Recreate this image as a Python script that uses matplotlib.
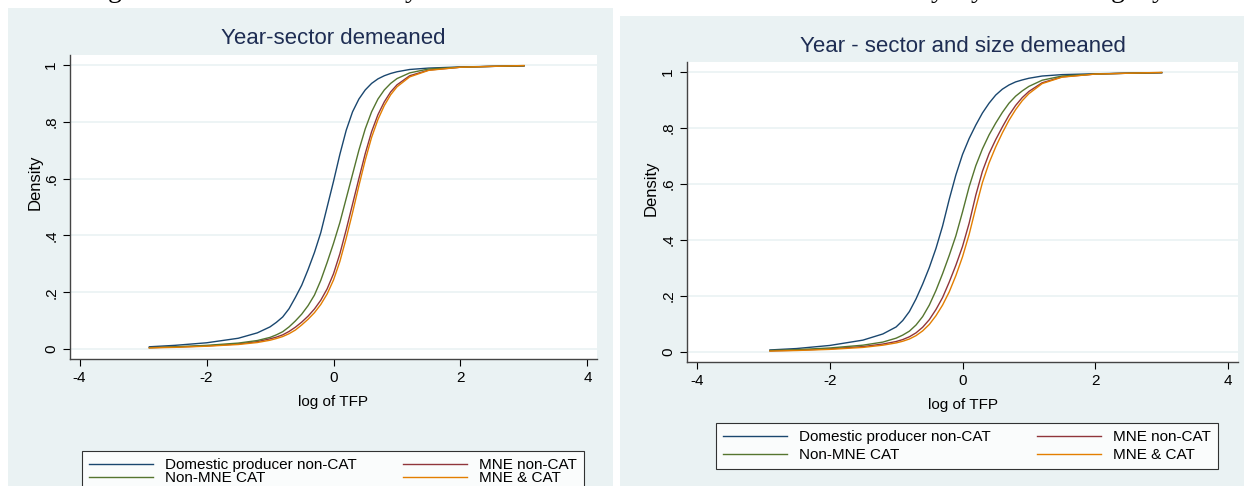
import matplotlib
matplotlib.use("Agg")
import matplotlib.pyplot as plt
from matplotlib.patches import Rectangle

plt.rcParams["font.family"] = ["Liberation Sans", "DejaVu Sans"]

# log TFP grid and cumulative shares for each firm group
tfp = [-2.9, -2.5, -2.0, -1.5, -1.2, -1.0, -0.9, -0.8, -0.7, -0.6, -0.5, -0.4, -0.3, -0.2, -0.1,
       0.0, 0.1, 0.2, 0.3, 0.4, 0.5, 0.6, 0.7, 0.8, 0.9, 1.0, 1.2, 1.5, 2.0, 2.5, 3.0]

# Year-sector demeaned
ys_domestic = [0.008, 0.013, 0.022, 0.038, 0.057, 0.078, 0.094, 0.113, 0.142, 0.182, 0.225, 0.28, 0.34, 0.41, 0.50,
               0.59, 0.685, 0.77, 0.835, 0.88, 0.912, 0.935, 0.951, 0.962, 0.97, 0.976, 0.984, 0.989, 0.993, 0.995, 0.997]
ys_nonmne_cat = [0.005, 0.008, 0.013, 0.021, 0.030, 0.041, 0.05, 0.061, 0.078, 0.099, 0.123, 0.153, 0.19, 0.242, 0.305,
                 0.372, 0.445, 0.53, 0.615, 0.70, 0.775, 0.835, 0.88, 0.912, 0.935, 0.952, 0.972, 0.986, 0.992, 0.995, 0.997]
ys_mne_noncat = [0.005, 0.007, 0.011, 0.018, 0.026, 0.036, 0.042, 0.05, 0.062, 0.077, 0.095, 0.116, 0.141, 0.172, 0.212,
                 0.265, 0.335, 0.42, 0.51, 0.60, 0.688, 0.765, 0.825, 0.87, 0.905, 0.93, 0.962, 0.982, 0.992, 0.995, 0.997]
ys_mne_cat = [0.004, 0.006, 0.010, 0.016, 0.023, 0.031, 0.037, 0.044, 0.054, 0.067, 0.085, 0.105, 0.128, 0.157, 0.194,
              0.243, 0.308, 0.39, 0.48, 0.575, 0.665, 0.745, 0.808, 0.857, 0.895, 0.923, 0.958, 0.981, 0.992, 0.995, 0.998]

# Year - sector and size demeaned
yss_domestic = [0.008, 0.013, 0.024, 0.043, 0.065, 0.09, 0.113, 0.145, 0.19, 0.243, 0.302, 0.37, 0.45, 0.545, 0.632,
                0.705, 0.762, 0.81, 0.853, 0.888, 0.917, 0.938, 0.953, 0.964, 0.971, 0.977, 0.985, 0.99, 0.993, 0.995, 0.997]
yss_nonmne_cat = [0.006, 0.009, 0.015, 0.025, 0.036, 0.05, 0.061, 0.075, 0.097, 0.127, 0.168, 0.22, 0.28, 0.345, 0.415,
                  0.50, 0.59, 0.665, 0.725, 0.775, 0.817, 0.855, 0.888, 0.913, 0.932, 0.948, 0.97, 0.985, 0.992, 0.995, 0.997]
yss_mne_noncat = [0.005, 0.007, 0.012, 0.02, 0.029, 0.038, 0.045, 0.055, 0.069, 0.089, 0.116, 0.152, 0.195, 0.25, 0.31,
                  0.377, 0.46, 0.56, 0.645, 0.708, 0.758, 0.803, 0.845, 0.88, 0.908, 0.93, 0.961, 0.982, 0.992, 0.995, 0.997]
yss_mne_cat = [0.004, 0.006, 0.010, 0.017, 0.025, 0.033, 0.039, 0.047, 0.059, 0.076, 0.099, 0.13, 0.168, 0.215, 0.273,
               0.34, 0.42, 0.515, 0.605, 0.675, 0.732, 0.782, 0.827, 0.865, 0.897, 0.922, 0.958, 0.981, 0.992, 0.995, 0.998]

labels = ["Domestic producer non-CAT", "MNE non-CAT", "Non-MNE CAT", "MNE & CAT"]
colors = ["#1a476f", "#90353b", "#55752f", "#e37e00"]
titles = ["Year-sector demeaned", "Year - sector and size demeaned"]
panels = [[ys_domestic, ys_mne_noncat, ys_nonmne_cat, ys_mne_cat],
          [yss_domestic, yss_mne_noncat, yss_nonmne_cat, yss_mne_cat]]
xticks = [-4, -2, 0, 2, 4]
yticks = [0, 0.2, 0.4, 0.6, 0.8, 1.0]
yticklabels = ["0", ".2", ".4", ".6", ".8", "1"]

W, H = 1244, 486
fig = plt.figure(figsize=(W / 100, H / 100), dpi=100, facecolor="white")


def px_box(x0, y0, x1, y1):
    # pixel box (top-left origin) -> figure fraction [left, bottom, width, height]
    return [x0 / W, 1 - y1 / H, (x1 - x0) / W, (y1 - y0) / H]


bg_color = "#eaf2f3"
backgrounds = [(8, 8, 613, 486), (620, 16, 1244, 486)]
plot_boxes = [(70, 55, 597, 359), (687, 62, 1238, 362)]
legend_anchor = [(82, 451, -0.05), (716, 423, 0.3)]
title_y = [38, 46]

# descenders of the page text running above the figures
for ch, x in [("g", 115), ("y", 412), ("y", 938), ("y", 978), ("g", 1118), ("y", 1159)]:
    fig.text(x / W, 1 + 3 / H, ch, ha="center", va="baseline", fontsize=20,
             family="Liberation Serif", color="black")

for b in backgrounds:
    l, bt, w, h = px_box(*b)
    fig.add_artist(Rectangle((l, bt), w, h, transform=fig.transFigure,
                             facecolor=bg_color, edgecolor="none", zorder=0))

for i in range(2):
    ax = fig.add_axes(px_box(*plot_boxes[i]))
    ax.set_facecolor("white")
    for lab, col, vals in zip(labels, colors, panels[i]):
        ax.plot(tfp, vals, color=col, lw=1.0, label=lab)
    ax.set_xlim(-4.15, 4.15)
    ax.set_ylim(-0.035, 1.035)
    ax.set_xticks(xticks)
    ax.set_xticklabels([str(t) for t in xticks])
    ax.set_yticks(yticks)
    ax.set_yticklabels(yticklabels, rotation=90, va="center")
    ax.tick_params(axis="both", direction="out", length=5, width=0.8, labelsize=11, color="black")
    ax.grid(axis="y", color=bg_color, lw=1.2)
    ax.set_axisbelow(True)
    for s in ["top", "right"]:
        ax.spines[s].set_visible(False)
    for s in ["left", "bottom"]:
        ax.spines[s].set_color("#444444")
        ax.spines[s].set_linewidth(1.0)
    ax.set_xlabel("log of TFP", fontsize=11, labelpad=7)
    ax.set_ylabel("Density", fontsize=12)
    ax.yaxis.set_label_coords(-0.052, 0.58)

    x0, x1 = plot_boxes[i][0], plot_boxes[i][2]
    fig.text((x0 + x1) / 2 / W, 1 - title_y[i] / H, titles[i], ha="center", va="center",
             fontsize=16, color="#1e2d53")

    lx, ly, lsp = legend_anchor[i]
    h, lb = ax.get_legend_handles_labels()
    order = [0, 2, 1, 3]
    leg = fig.legend([h[k] for k in order], [lb[k] for k in order], ncol=2,
                     loc="upper left", bbox_to_anchor=(lx / W, 1 - ly / H),
                     fontsize=11, frameon=True, fancybox=False, handlelength=4.2,
                     handletextpad=0.8, columnspacing=3.0, borderpad=0.45,
                     labelspacing=lsp, borderaxespad=0)
    leg.get_frame().set_edgecolor("black")
    leg.get_frame().set_linewidth(0.8)

fig.savefig("out.png", dpi=100, facecolor="white")
